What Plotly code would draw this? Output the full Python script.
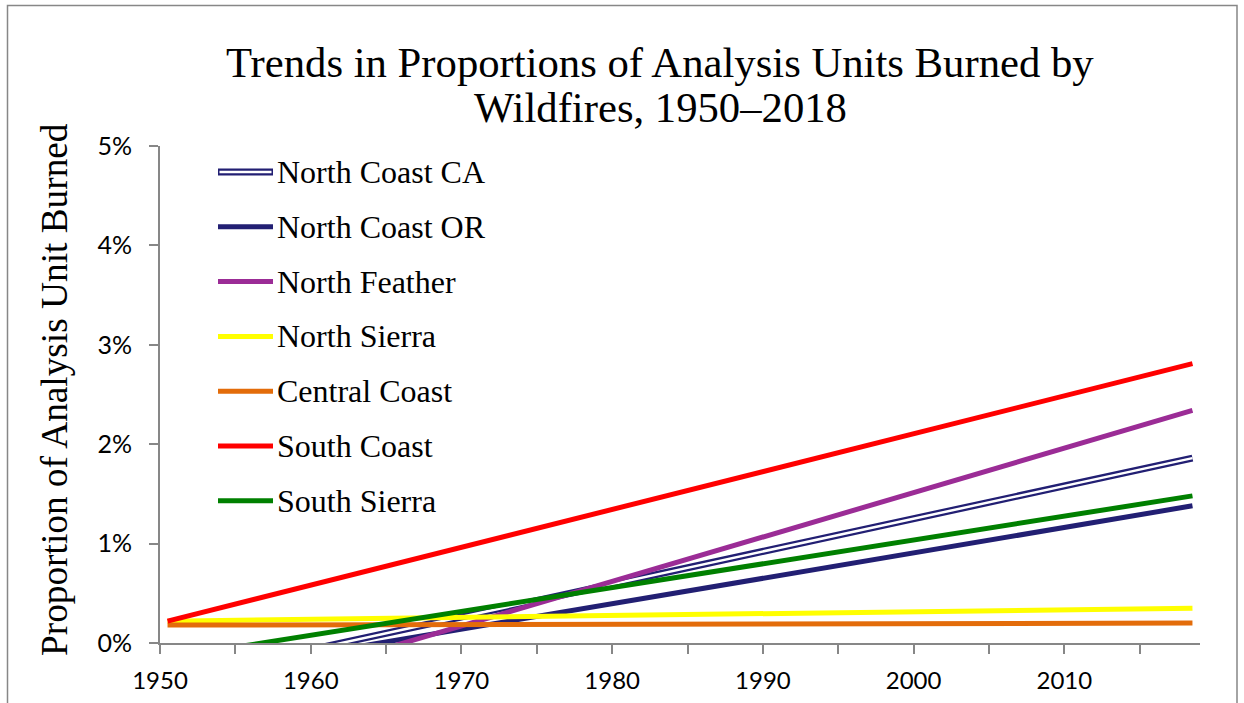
import plotly.graph_objects as go

# ---- data (percent of analysis unit burned; linear trends) ----
years = [1950, 2018]
series_names = ["North Coast CA", "North Coast OR", "North Feather", "North Sierra",
                "Central Coast", "South Coast", "South Sierra"]
north_coast_ca = [-0.38, 1.86]
north_coast_or = [-0.36, 1.38]
north_feather = [-0.70, 2.34]
north_sierra = [0.22, 0.35]
central_coast = [0.18, 0.20]
south_coast = [0.22, 2.81]
south_sierra = [-0.15, 1.48]
values = [north_coast_ca, north_coast_or, north_feather, north_sierra,
          central_coast, south_coast, south_sierra]
colors = ["#221F73", "#221F73", "#9B2C96", "#FFFF00", "#E36C0A", "#FF0000", "#008000"]

x_ticks = [1950, 1960, 1970, 1980, 1990, 2000, 2010]
y_ticks = [0, 1, 2, 3, 4, 5]
y_tick_labels = ["0%", "1%", "2%", "3%", "4%", "5%"]

W, H = 1244, 703
L, R, T, B = 160, 44, 146, 60
PW, PH = W - L - R, H - T - B

def px_x(px):
    return (px - L) / PW

def px_y(py):
    return (H - B - py) / PH

xs = [y + 0.5 for y in years]  # mid-year positions

fig = go.Figure()
for i, (name, vals, col) in enumerate(zip(series_names, values, colors)):
    if i == 0:
        fig.add_trace(go.Scatter(x=xs, y=vals, mode="lines", name=name,
                                 line=dict(color=col, width=7), showlegend=False))
        fig.add_trace(go.Scatter(x=xs, y=vals, mode="lines", name=name,
                                 line=dict(color="white", width=2.5), showlegend=False,
                                 hoverinfo="skip"))
    else:
        fig.add_trace(go.Scatter(x=xs, y=vals, mode="lines", name=name,
                                 line=dict(color=col, width=5), showlegend=False))

shapes = []
annotations = []

# manual legend
leg_y0 = 172
leg_dy = 54.8
for i, (name, col) in enumerate(zip(series_names, colors)):
    yp = px_y(leg_y0 + i * leg_dy)
    if i == 0:
        shapes.append(dict(type="line", xref="paper", yref="paper", x0=px_x(218), x1=px_x(273),
                           y0=yp, y1=yp, line=dict(color=col, width=7)))
        shapes.append(dict(type="line", xref="paper", yref="paper", x0=px_x(219.5), x1=px_x(271.5),
                           y0=yp, y1=yp, line=dict(color="white", width=2.5)))
    else:
        shapes.append(dict(type="line", xref="paper", yref="paper", x0=px_x(218), x1=px_x(273),
                           y0=yp, y1=yp, line=dict(color=col, width=5)))
    annotations.append(dict(text=name, xref="paper", yref="paper", x=px_x(275), y=yp,
                            xanchor="left", yanchor="middle", showarrow=False,
                            font=dict(family="Liberation Serif", size=32, color="black")))

# outer border
shapes.append(dict(type="rect", xref="paper", yref="paper", x0=px_x(7.5), x1=px_x(1237),
                   y0=px_y(720), y1=px_y(5.5), line=dict(color="#878787", width=1.5)))

# title
annotations.append(dict(text="Trends in Proportions of Analysis Units Burned by", xref="paper", yref="paper",
                        x=px_x(660), y=px_y(62), xanchor="center", yanchor="middle", showarrow=False,
                        font=dict(family="Liberation Serif", size=42.7, color="black")))
annotations.append(dict(text="Wildfires, 1950\u20132018", xref="paper", yref="paper",
                        x=px_x(660), y=px_y(107), xanchor="center", yanchor="middle", showarrow=False,
                        font=dict(family="Liberation Serif", size=42.7, color="black")))
# y axis title
annotations.append(dict(text="Proportion of Analysis Unit Burned", xref="paper", yref="paper",
                        x=px_x(54), y=px_y(390), xanchor="center", yanchor="middle", showarrow=False,
                        textangle=-90,
                        font=dict(family="Liberation Serif", size=37.3, color="black")))

fig.update_layout(
    width=W, height=H,
    margin=dict(l=L, r=R, t=T, b=B, autoexpand=False),
    paper_bgcolor="white", plot_bgcolor="white",
    showlegend=False,
    shapes=shapes, annotations=annotations,
    xaxis=dict(range=[1950, 2019], tickvals=x_ticks, ticktext=[str(v) for v in x_ticks],
               automargin=False,
               showgrid=False, zeroline=False, showline=True, linecolor="#878787", linewidth=2,
               ticks="outside", ticklen=9, tickwidth=2, tickcolor="#878787",
               ticklabelstandoff=6,
               minor=dict(dtick=5, tick0=1950, ticks="outside", ticklen=9, tickwidth=2,
                          tickcolor="#878787", showgrid=False),
               tickfont=dict(family="Lato", size=24, color="black")),
    yaxis=dict(range=[0, 5], tickvals=y_ticks, ticktext=y_tick_labels,
               automargin=False,
               showgrid=False, zeroline=False, showline=True, linecolor="#878787", linewidth=2,
               ticks="outside", ticklen=9, tickwidth=2, tickcolor="#878787",
               ticklabelstandoff=12,
               tickfont=dict(family="Lato", size=25, color="black")),
)

fig.write_html("out.html")
